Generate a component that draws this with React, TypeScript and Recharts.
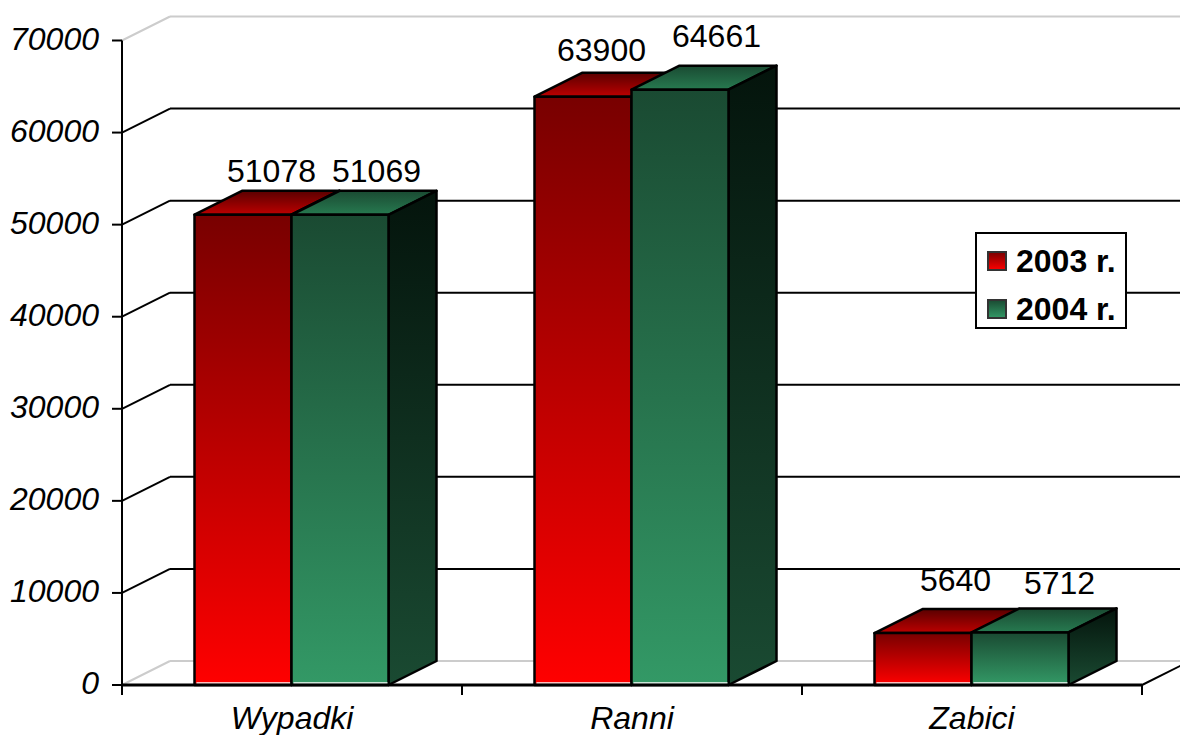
import { BarChart, Bar, XAxis, YAxis, CartesianGrid, Legend, LabelList } from "recharts";

const categories = ["Wypadki", "Ranni", "Zabici"];
const values2003 = [51078, 63900, 5640];
const values2004 = [51069, 64661, 5712];
const yTicks = [0, 10000, 20000, 30000, 40000, 50000, 60000, 70000];

const data = categories.map((name, i) => ({
  name,
  y2003: values2003[i],
  y2004: values2004[i],
}));

// how far each value label sits from the middle of its bar's front top edge
const labelShift2003 = [[28, -44], [18, -47], [32, -53]];
const labelShift2004 = [[36, -44], [36, -54], [39, -49]];

const FONT = "'Liberation Sans', Arial, sans-serif";
const FONT_SIZE = 32;
const DEPTH_X = 48;
const DEPTH_Y = 24;
const BAND = 340;

function Box3D(props: any) {
  const { y, width: w, height: h, colorKey } = props;
  const x = props.x - 0.5;
  const strokeProps = { stroke: "#000", strokeWidth: 2.5, strokeLinejoin: "round" as const };
  return (
    <g>
      <polygon
        points={`${x},${y} ${x + w},${y} ${x + w + DEPTH_X},${y - DEPTH_Y} ${x + DEPTH_X},${y - DEPTH_Y}`}
        fill={`url(#${colorKey}Top)`}
        {...strokeProps}
      />
      <polygon
        points={`${x + w},${y} ${x + w + DEPTH_X},${y - DEPTH_Y} ${x + w + DEPTH_X},${y + h - DEPTH_Y} ${x + w},${y + h}`}
        fill={`url(#${colorKey}Side)`}
        {...strokeProps}
      />
      <rect x={x} y={y} width={w} height={h} fill={`url(#${colorKey}Front)`} {...strokeProps} />
      <line x1={x + 2} x2={x + w - 1} y1={y + h - 2} y2={y + h - 2} stroke="#fff" strokeWidth={1.5} />
    </g>
  );
}

function GridLine(props: any) {
  const { x1, x2, y1 } = props;
  const isEdge = y1 < 45 || y1 > 680;
  const color = isEdge ? "#cccccc" : "#000";
  return (
    <g>
      <line x1={x1} y1={y1} x2={x1 + DEPTH_X} y2={y1 - DEPTH_Y} stroke={color} strokeWidth={2} />
      <line x1={x1 + DEPTH_X} y1={y1 - DEPTH_Y} x2={x2 + DEPTH_X} y2={y1 - DEPTH_Y} stroke={color} strokeWidth={2} />
      {y1 > 680 && (
        <line x1={x2} y1={y1} x2={x2 + DEPTH_X} y2={y1 - DEPTH_Y} stroke="#000" strokeWidth={2} />
      )}
    </g>
  );
}

function CategoryTick(props: any) {
  const { x, y, payload, index } = props;
  return (
    <g>
      <line x1={x - BAND / 2} x2={x - BAND / 2} y1={y - 8} y2={y + 2} stroke="#000" strokeWidth={2} />
      {index === categories.length - 1 && (
        <line x1={x + BAND / 2} x2={x + BAND / 2} y1={y - 8} y2={y + 2} stroke="#000" strokeWidth={2} />
      )}
      <text x={x} y={y + 36} textAnchor="middle" fontFamily={FONT} fontSize={FONT_SIZE} fontStyle="italic" fill="#000">
        {payload.value}
      </text>
    </g>
  );
}

function ValueTick(props: any) {
  const { x, y, payload } = props;
  return (
    <text x={x - 1} y={y + 9} textAnchor="end" fontFamily={FONT} fontSize={FONT_SIZE} fontStyle="italic" fill="#000">
      {payload.value}
    </text>
  );
}

function makeLabel(shifts: number[][]) {
  return function ValueLabel(props: any) {
    const { x, y, width, value, index } = props;
    const [dx, dy] = shifts[index];
    return (
      <text x={x + width / 2 + dx} y={y + dy + 11} textAnchor="middle" fontFamily={FONT} fontSize={FONT_SIZE} fill="#000">
        {value}
      </text>
    );
  };
}

function LegendBox() {
  const rows = [
    { label: "2003 r.", fill: "url(#redFront)" },
    { label: "2004 r.", fill: "url(#greenFront)" },
  ];
  return (
    <div
      style={{
        boxSizing: "border-box",
        width: 152,
        height: 97,
        border: "2px solid #000",
        background: "#fff",
        paddingTop: 3,
      }}
    >
      {rows.map((r) => (
        <div key={r.label} style={{ display: "flex", alignItems: "center", height: 48, paddingLeft: 10 }}>
          <svg width={20} height={20} style={{ marginRight: 9, flex: "none" }}>
            <rect x={1} y={1} width={18} height={18} fill={r.fill} stroke="#333" strokeWidth={2} />
          </svg>
          <span style={{ fontFamily: FONT, fontSize: FONT_SIZE, fontWeight: 700, lineHeight: "36px", whiteSpace: "nowrap" }}>
            {r.label}
          </span>
        </div>
      ))}
    </div>
  );
}

export default function App() {
  return (
    <div style={{ position: "absolute", left: 0, top: 0, width: 1180, height: 735, overflow: "hidden", background: "#fff" }}>
      <BarChart
        width={1180}
        height={735}
        data={data}
        barSize={97}
        barGap={0}
        margin={{ top: 40.5, right: 38, left: 0, bottom: 0 }}
      >
        <defs>
          <linearGradient id="redFront" x1="0" y1="0" x2="0" y2="1">
            <stop offset="0%" stopColor="#780000" />
            <stop offset="100%" stopColor="#ff0000" />
          </linearGradient>
          <linearGradient id="redTop" x1="0" y1="0" x2="0" y2="1">
            <stop offset="0%" stopColor="#5a0000" />
            <stop offset="100%" stopColor="#bd0000" />
          </linearGradient>
          <linearGradient id="redSide" x1="0" y1="0" x2="0" y2="1">
            <stop offset="0%" stopColor="#3c0000" />
            <stop offset="100%" stopColor="#800000" />
          </linearGradient>
          <linearGradient id="greenFront" x1="0" y1="0" x2="0" y2="1">
            <stop offset="0%" stopColor="#1a4a32" />
            <stop offset="100%" stopColor="#339966" />
          </linearGradient>
          <linearGradient id="greenTop" x1="0" y1="0" x2="0" y2="1">
            <stop offset="0%" stopColor="#1a4a32" />
            <stop offset="100%" stopColor="#277a50" />
          </linearGradient>
          <linearGradient id="greenSide" x1="0" y1="0" x2="0" y2="1">
            <stop offset="0%" stopColor="#04140c" />
            <stop offset="100%" stopColor="#1a4a32" />
          </linearGradient>
        </defs>
        <CartesianGrid vertical={false} horizontal={<GridLine />} />
        <XAxis
          dataKey="name"
          height={50}
          tickLine={false}
          axisLine={{ stroke: "#000", strokeWidth: 3 }}
          tick={<CategoryTick />}
          interval={0}
        />
        <YAxis
          width={122}
          domain={[0, 70000]}
          ticks={yTicks}
          interval={0}
          tickSize={10}
          tickMargin={12}
          tickLine={{ stroke: "#000", strokeWidth: 2 }}
          axisLine={{ stroke: "#000", strokeWidth: 2 }}
          tick={<ValueTick />}
        />
        <Legend
          layout="horizontal"
          verticalAlign="middle"
          content={<LegendBox />}
          wrapperStyle={{ position: "absolute", left: 975, top: 232, width: 152, height: 97 }}
        />
        <Bar dataKey="y2003" name="2003 r." fill="#ff0000" isAnimationActive={false} shape={<Box3D colorKey="red" />}>
          <LabelList dataKey="y2003" content={makeLabel(labelShift2003)} />
        </Bar>
        <Bar dataKey="y2004" name="2004 r." fill="#339966" isAnimationActive={false} shape={<Box3D colorKey="green" />}>
          <LabelList dataKey="y2004" content={makeLabel(labelShift2004)} />
        </Bar>
      </BarChart>
    </div>
  );
}
